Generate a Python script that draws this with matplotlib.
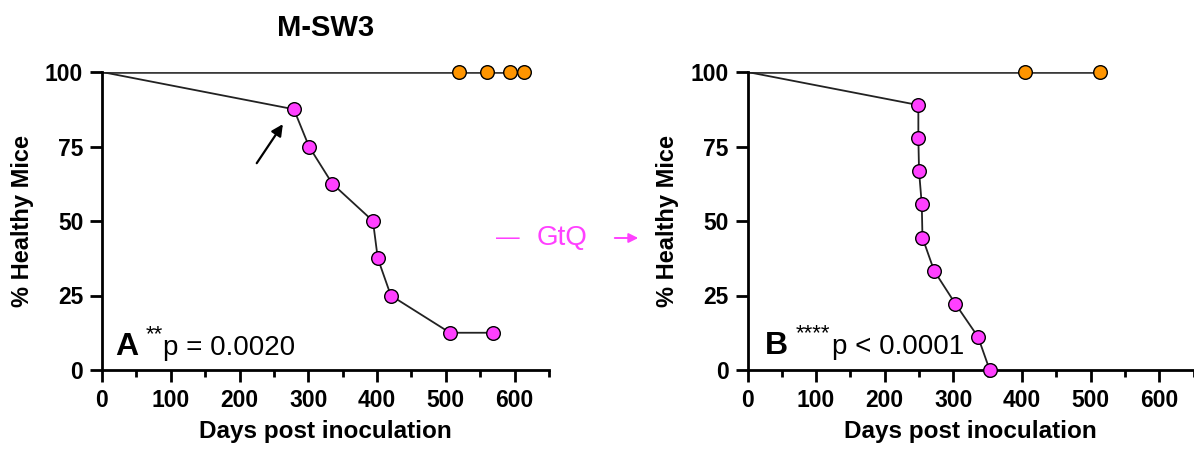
import matplotlib
matplotlib.use("Agg")
import matplotlib.pyplot as plt
from matplotlib.ticker import MultipleLocator

plt.rcParams['font.family'] = ['Liberation Sans', 'DejaVu Sans']

# Panel A data
a_gtq_days = [0, 279, 301, 335, 394, 401, 420, 506, 569]
a_gtq_pct = [100, 87.5, 75, 62.5, 50, 37.5, 25, 12.5, 12.5]
a_ctl_days = [0, 519, 560, 594, 614]
a_ctl_pct = [100, 100, 100, 100, 100]

# Panel B data
b_gtq_days = [0, 249, 249, 250, 254, 255, 272, 303, 336, 353]
b_gtq_pct = [100, 88.9, 77.8, 66.7, 55.6, 44.4, 33.3, 22.2, 11.1, 0]
b_ctl_days = [0, 404, 514]
b_ctl_pct = [100, 100, 100]

x_ticks = [0, 100, 200, 300, 400, 500, 600]
y_ticks = [0, 25, 50, 75, 100]

MAG = '#FF40FF'
ORA = '#FF9500'

fig = plt.figure(figsize=(11.94, 4.49), dpi=100)
axA = fig.add_axes([102/1194, 79/449, 447/1194, 298/449])
axB = fig.add_axes([747.5/1194, 79/449, 446/1194, 298/449])


def draw(ax, gd, gp, cd, cp):
    ax.plot(cd, cp, color='#3a3a3a', lw=1.9, zorder=2)
    ax.plot(cd[1:], cp[1:], ls='none', marker='o', ms=9.8, mfc=ORA,
            mec='black', mew=1.0, zorder=4, clip_on=False)
    ax.plot(gd, gp, color='#222222', lw=1.3, zorder=2)
    ax.plot(gd[1:], gp[1:], ls='none', marker='o', ms=9.8, mfc=MAG,
            mec='black', mew=1.0, zorder=5, clip_on=False)
    ax.set_xlim(0, 650)
    ax.set_ylim(0, 100)
    ax.set_xticks(x_ticks)
    ax.set_yticks(y_ticks)
    ax.xaxis.set_minor_locator(MultipleLocator(50))
    for s in ['top', 'right']:
        ax.spines[s].set_visible(False)
    for s in ['left', 'bottom']:
        ax.spines[s].set_linewidth(2.0)
    ax.tick_params(axis='both', which='major', length=8.5, width=2.0,
                   direction='out', labelsize=16.5)
    ax.tick_params(axis='x', which='major', pad=5)
    ax.tick_params(axis='y', which='major', pad=5)
    ax.tick_params(axis='x', which='minor', length=5, width=2.0, direction='out')
    for lab in ax.get_xticklabels() + ax.get_yticklabels():
        lab.set_fontweight('bold')
    ax.set_xlabel('Days post inoculation', fontsize=17.5, fontweight='bold', labelpad=6)
    ax.set_ylabel('% Healthy Mice', fontsize=17, fontweight='bold', labelpad=8)
    ax.patch.set_alpha(0)


draw(axA, a_gtq_days, a_gtq_pct, a_ctl_days, a_ctl_pct)
draw(axB, b_gtq_days, b_gtq_pct, b_ctl_days, b_ctl_pct)

axA.set_title('M-SW3', fontsize=21, fontweight='bold', pad=26)

# arrow in panel A
axA.annotate('', xy=(263, 82.5), xytext=(225, 69.4),
             arrowprops=dict(arrowstyle='-|>', color='black', lw=1.6,
                             mutation_scale=17, shrinkA=0, shrinkB=0))

# panel letters and p-values
axA.text(19, 5, 'A', fontsize=23, fontweight='bold', va='baseline', ha='left')
axA.text(63, 10, '**', fontsize=16, va='baseline', ha='left')
axA.text(89, 5, 'p = 0.0020', fontsize=20, va='baseline', ha='left')

axB.text(26, 5.5, 'B', fontsize=23, fontweight='bold', va='baseline', ha='left')
axB.text(70, 10.5, '****', fontsize=16, va='baseline', ha='left')
axB.text(123, 5.5, 'p < 0.0001', fontsize=20, va='baseline', ha='left')

# GtQ connector between panels
fig.text(508/1194, 1 - 238/449, '—', color=MAG, fontsize=17, ha='center', va='center')
fig.text(562/1194, 1 - 238/449, 'GtQ', color=MAG, fontsize=20, ha='center', va='center')
fig.patches.append(matplotlib.patches.FancyArrowPatch(
    (612/1194, 1 - 238/449), (641/1194, 1 - 238/449), transform=fig.transFigure,
    arrowstyle='-|>', color=MAG, lw=1.4, mutation_scale=14))

fig.savefig('out.png', dpi=100)
